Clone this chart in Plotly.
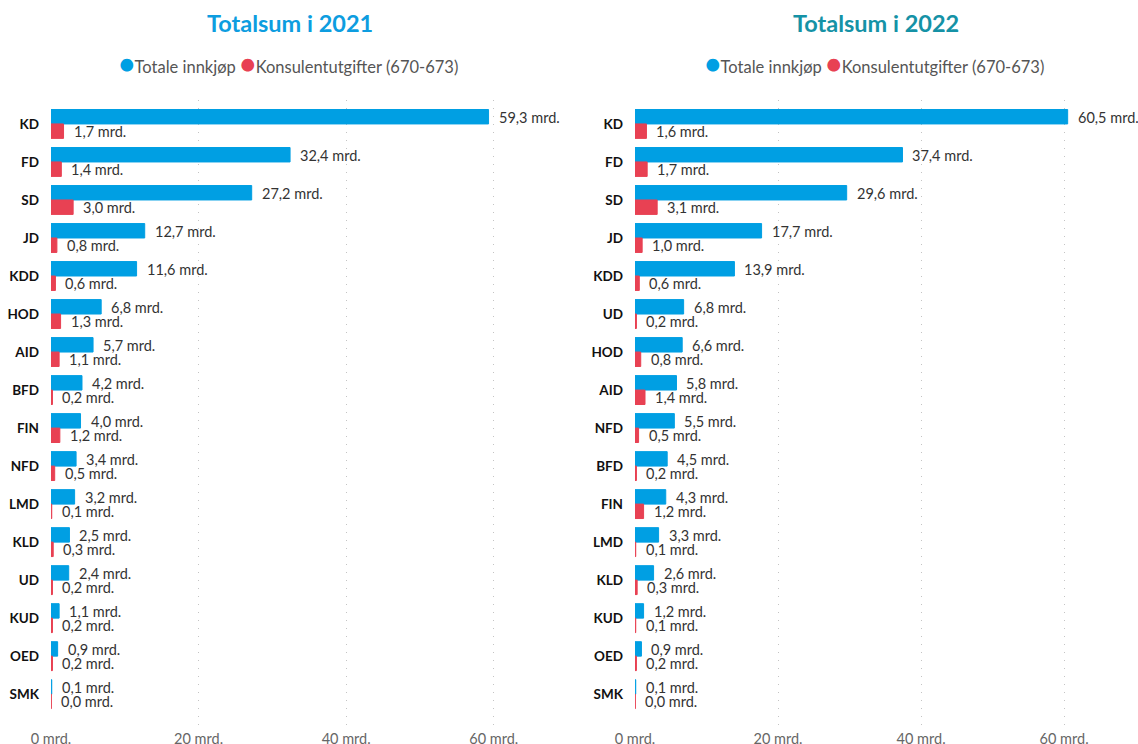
import plotly.graph_objects as go

# data (milliarder kroner)
cats_2021 = ["KD", "FD", "SD", "JD", "KDD", "HOD", "AID", "BFD", "FIN", "NFD", "LMD", "KLD", "UD", "KUD", "OED", "SMK"]
total_2021 = [59.3, 32.4, 27.2, 12.7, 11.6, 6.8, 5.7, 4.2, 4.0, 3.4, 3.2, 2.5, 2.4, 1.1, 0.9, 0.1]
konsulent_2021 = [1.7, 1.4, 3.0, 0.8, 0.6, 1.3, 1.1, 0.2, 1.2, 0.5, 0.1, 0.3, 0.2, 0.2, 0.2, 0.04]

cats_2022 = ["KD", "FD", "SD", "JD", "KDD", "UD", "HOD", "AID", "NFD", "BFD", "FIN", "LMD", "KLD", "KUD", "OED", "SMK"]
total_2022 = [60.5, 37.4, 29.6, 17.7, 13.9, 6.8, 6.6, 5.8, 5.5, 4.5, 4.3, 3.3, 2.6, 1.2, 0.9, 0.1]
konsulent_2022 = [1.6, 1.7, 3.1, 1.0, 0.6, 0.2, 0.8, 1.4, 0.5, 0.2, 1.2, 0.1, 0.3, 0.1, 0.2, 0.04]

x_ticks = [0, 20, 40, 60]
x_tick_text = ["0 mrd.", "20 mrd.", "40 mrd.", "60 mrd."]

BLUE = "#009fe3"
RED = "#e84153"
FONT = "Lato"
W, H = 1138, 744


def px_x(p):
    return p / W


def px_y(p):
    return 1 - p / H


def fmt(v):
    return f"{v:.1f}".replace(".", ",") + " mrd."


fig = go.Figure()
annotations = []

panels = [
    (cats_2021, total_2021, konsulent_2021, "x", "y"),
    (cats_2022, total_2022, konsulent_2022, "x2", "y2"),
]
for cats, tot, kons, xa, ya in panels:
    for vals, color, shift in [(tot, BLUE, 6.5), (kons, RED, -7.5)]:
        fig.add_trace(go.Bar(
            y=cats, x=vals, orientation="h", xaxis=xa, yaxis=ya,
            marker=dict(color=color, line=dict(color=color, width=1)),
            showlegend=False, hoverinfo="skip",
        ))
        for c, v in zip(cats, vals):
            annotations.append(dict(
                x=v, y=c, xref=xa, yref=ya, text=fmt(v), showarrow=False,
                xanchor="left", yanchor="middle", xshift=8, yshift=shift,
                font=dict(size=14.5, color="#333333", family=FONT),
            ))

# titles and legends
titles = [("Totalsum i 2021", "#0d9de0", 290), ("Totalsum i 2022", "#1592a6", 876)]
for text, color, cx in titles:
    annotations.append(dict(
        x=px_x(cx), y=px_y(23), xref="paper", yref="paper", text=f"<b>{text}</b>",
        showarrow=False, xanchor="center", yanchor="middle",
        font=dict(size=23.5, color=color, family=FONT),
    ))
    legend_txt = (f"<span style='color:{BLUE};font-size:26px'>●</span>Totale innkjøp "
                  f"<span style='color:{RED};font-size:26px'>●</span>Konsulentutgifter (670-673)")
    annotations.append(dict(
        x=px_x(cx - 2), y=px_y(63), xref="paper", yref="paper", text=legend_txt,
        showarrow=False, xanchor="center", yanchor="middle",
        font=dict(size=16.5, color="#555555", family=FONT),
    ))

xaxis_style = dict(
    range=[0, 66], tickmode="array", tickvals=x_ticks, ticktext=x_tick_text, showgrid=True,
    gridcolor="#c4c4c4", griddash="1px,7px", gridwidth=1, zeroline=False,
    showline=False, tickfont=dict(size=14.5, color="#666666", family=FONT),
    automargin=False, fixedrange=True,
)
yaxis_style = dict(
    type="category", range=[15.89, -0.63], showgrid=False, zeroline=False,
    showline=False, ticks="", ticklabelstandoff=11,
    tickfont=dict(size=13.5, color="#111111", family=FONT, weight="bold"),
    automargin=False, domain=[px_y(728), px_y(100)],
)

fig.update_layout(
    width=W, height=H,
    margin=dict(l=0, r=0, t=0, b=0),
    paper_bgcolor="white", plot_bgcolor="white",
    barmode="group", bargap=0.24, bargroupgap=0,
    xaxis=dict(domain=[px_x(51), px_x(538)], anchor="y", **xaxis_style),
    xaxis2=dict(domain=[px_x(635), px_x(1107)], anchor="y2", **xaxis_style),
    yaxis=dict(anchor="x", categoryarray=cats_2021, **yaxis_style),
    yaxis2=dict(anchor="x2", categoryarray=cats_2022, **yaxis_style),
    annotations=annotations,
    font=dict(family=FONT),
)

# drop the browser's default body margin so the figure fills the window exactly
fig.write_html(
    "out.html",
    config={"displayModeBar": False},
    post_script="document.body.style.margin='0';document.body.style.overflow='hidden';",
)
